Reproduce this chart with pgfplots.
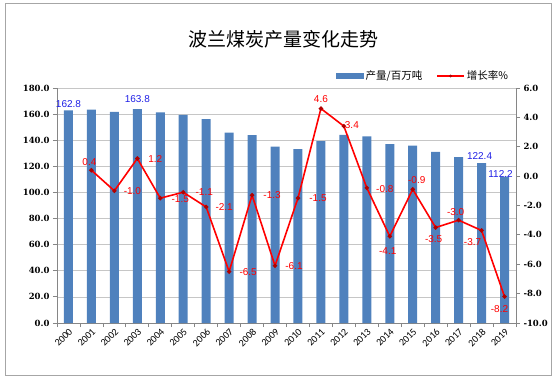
\documentclass[border=0pt]{standalone}
\usepackage{pgfplots}
\pgfplotsset{compat=1.18}
\usepackage{pgfplotstable}
\usepackage{fontspec}
\setmainfont{Liberation Sans}
\newfontfamily\cjk{Noto Sans CJK SC}
\newfontfamily\tickfont{DejaVu Serif}
\newfontfamily\yearfont{Carlito}
\definecolor{barblue}{HTML}{4F81BD}
\definecolor{axgray}{HTML}{868686}
\definecolor{labblue}{HTML}{1F1FE6}

\pgfplotstableread{
x prod
0 162.8
1 163.5
2 161.8
3 163.8
4 161.3
5 159.5
6 156.1
7 145.9
8 144.0
9 135.1
10 133.2
11 139.3
12 144.1
13 142.9
14 137.1
15 135.8
16 131.0
17 127.1
18 122.4
19 112.2
}\prodtable

\pgfplotstableread{
x prod lab dx dy
0 162.8 162.8 0 6
3 163.8 163.8 0 10
18 122.4 122.4 -2 7
19 112.2 112.2 -4 3
}\bluelab

\pgfplotstableread{
x rate lab dx dy
1 0.4 0.4 -2 8
2 -1.0 -1.0 18 0
3 1.2 1.2 18 -1
4 -1.5 -1.5 20 -1
5 -1.1 -1.1 21 0
6 -2.1 -2.1 18 0
7 -6.5 -6.5 19 0
8 -1.3 -1.3 20 0
9 -6.1 -6.1 19 0
10 -1.5 -1.5 20 0
11 4.6 4.6 0 10
12 3.4 3.4 8 1
13 -0.8 -0.8 18 -1
14 -4.1 -4.1 -2 -15
15 -0.9 -0.9 4 9
16 -3.5 -3.5 -2 -12
17 -3.0 -3.0 -3 8
18 -3.7 -3.7 -9 -12
19 -8.2 -8.2 -5 -12
}\ratetable

\begin{document}
\begin{tikzpicture}
\useasboundingbox (0pt,0pt) rectangle (560pt,381pt);
\draw[gray!70, line width=1pt] (5.5pt,6pt) rectangle (551pt,377pt);
\node[font=\cjk\fontsize{19}{21}\selectfont] at (283pt,342pt) {波兰煤炭产量变化走势};

\begin{axis}[
  at={(57pt,58pt)}, anchor=south west,
  scale only axis, width=459pt, height=235pt,
  xmin=-0.5, xmax=19.5, ymin=0, ymax=180,
  axis x line*=bottom, axis y line*=left,
  axis line style={axgray, line width=0.8pt},
  ytick={0,20,...,180},
  yticklabels={0.0,20.0,40.0,60.0,80.0,100.0,120.0,140.0,160.0,180.0},
  yticklabel style={font=\tickfont\bfseries\fontsize{8.5}{10}\selectfont, black},
  xtick={0,...,19},
  xticklabels={2000,2001,2002,2003,2004,2005,2006,2007,2008,2009,2010,2011,2012,2013,2014,2015,2016,2017,2018,2019},
  xticklabel style={font=\yearfont\fontsize{10}{12}\selectfont, rotate=45, anchor=north east, inner sep=0.5pt, black},
  minor xtick={-0.5,0.5,...,19.5},
  major x tick style={draw=none},
  tick align=outside, tick style={axgray, line width=0.8pt},
  major tick length=4pt, minor tick length=4pt,
  ymajorgrids, grid style={gray!45, line width=0.6pt},
  clip=false,
]
\addplot[ybar, bar width=9pt, fill=barblue, draw=none] table[x=x, y=prod] {\prodtable};
\addplot[draw=none, mark=none, nodes near coords, point meta=explicit symbolic,
  visualization depends on={\thisrow{dx} \as \dx},
  visualization depends on={\thisrow{dy} \as \dy},
  every node near coord/.append style={anchor=center, xshift=\dx pt, yshift=\dy pt,
    font=\fontsize{10}{12}\selectfont, text=labblue, inner sep=0pt}]
  table[x=x, y=prod, meta=lab] {\bluelab};
\end{axis}

\begin{axis}[
  at={(57pt,58pt)}, anchor=south west,
  scale only axis, width=459pt, height=235pt,
  xmin=-0.5, xmax=19.5, ymin=-10, ymax=6,
  axis x line=none, axis y line*=right,
  axis line style={axgray, line width=0.8pt},
  ytick={-10,-8,...,6},
  yticklabels={-10.0,-8.0,-6.0,-4.0,-2.0,0.0,2.0,4.0,6.0},
  yticklabel style={font=\tickfont\bfseries\fontsize{8.5}{10}\selectfont, black},
  tick align=outside, tick style={axgray, line width=0.8pt},
  major tick length=4pt,
  clip=false,
  legend columns=2,
  legend style={draw=none, fill=none, at={(0.608,1.051)}, anchor=west,
    font=\cjk\fontsize{10.5}{12}\selectfont, inner sep=0pt,
    /tikz/every even column/.append style={column sep=12pt}},
]
\addlegendimage{legend image code/.code={\fill[barblue] (0pt,-2.5pt) rectangle (27pt,2.5pt);}}
\addlegendentry{产量/百万吨}
\addlegendimage{legend image code/.code={\draw[red, line width=1.6pt] (0pt,0pt) -- (27pt,0pt); \fill[red!70!black] (13.5pt,0pt) circle (1.2pt);}}
\addlegendentry{增长率\%}
\addplot[forget plot, red, line width=1.6pt, mark=*, mark size=1.3pt,
  mark options={fill=red!70!black, draw=red!70!black},
  nodes near coords, point meta=explicit symbolic,
  visualization depends on={\thisrow{dx} \as \dx},
  visualization depends on={\thisrow{dy} \as \dy},
  every node near coord/.append style={anchor=center, xshift=\dx pt, yshift=\dy pt,
    font=\fontsize{10}{12}\selectfont, text=red, inner sep=0pt}]
  table[x=x, y=rate, meta=lab] {\ratetable};
\end{axis}
\end{tikzpicture}
\end{document}
